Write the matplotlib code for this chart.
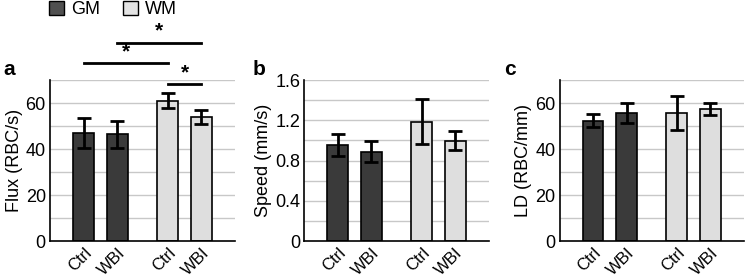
import matplotlib.pyplot as plt
import numpy as np
from matplotlib.patches import Patch

plt.rcParams['font.family'] = ['Liberation Sans', 'DejaVu Sans']

# data
labels = ['Ctrl', 'WBI', 'Ctrl', 'WBI']
groups = ['GM', 'GM', 'WM', 'WM']
flux = [47.0, 46.4, 61.0, 54.1]
flux_err = [6.5, 5.8, 3.2, 3.0]
speed = [0.954, 0.888, 1.186, 0.997]
speed_err = [0.11, 0.105, 0.225, 0.096]
ld = [52.4, 55.7, 55.7, 57.3]
ld_err = [2.7, 4.3, 7.3, 2.6]

gm_color = '#3a3a3a'
wm_color = '#dedede'
x = np.array([0, 1, 2.5, 3.5])

fig = plt.figure(figsize=(7.46, 2.8), dpi=100)
axes = [fig.add_axes([0.067, 0.139, 0.248, 0.575]),
        fig.add_axes([0.408, 0.139, 0.247, 0.575]),
        fig.add_axes([0.750, 0.139, 0.247, 0.575])]

panels = [(flux, flux_err, 'Flux (RBC/s)', 70, 10, [0, 20, 40, 60], ['0', '20', '40', '60']),
          (speed, speed_err, 'Speed (mm/s)', 1.6, 0.2, [0, 0.4, 0.8, 1.2, 1.6], ['0', '0.4', '0.8', '1.2', '1.6']),
          (ld, ld_err, 'LD (RBC/mm)', 70, 10, [0, 20, 40, 60], ['0', '20', '40', '60'])]

for ax, (vals, errs, ylab, ymax, step, yt, ytl) in zip(axes, panels):
    colors = [gm_color if g == 'GM' else wm_color for g in groups]
    for yy in np.arange(step, ymax + step / 2, step):
        ax.axhline(yy, color='#c8c8c8', lw=1.0, zorder=0)
    ax.bar(x, vals, width=0.62, color=colors, edgecolor='black', linewidth=1.2, zorder=2)
    ax.errorbar(x, vals, yerr=errs, fmt='none', ecolor='black', elinewidth=2,
                capsize=5, capthick=2, zorder=3)
    ax.set_xlim(-1, 4.5)
    ax.set_ylim(0, ymax)
    ax.set_yticks(yt)
    ax.set_yticklabels(ytl, fontsize=13)
    ax.set_xticks(x)
    ax.set_xticklabels(labels, rotation=45, ha='right', rotation_mode='anchor', fontsize=12)
    ax.tick_params(axis='both', length=0, pad=3)
    ax.tick_params(axis='x', pad=3)
    ax.set_ylabel(ylab, fontsize=13, labelpad=2)
    for s in ['top', 'right']:
        ax.spines[s].set_visible(False)
    ax.spines['left'].set_linewidth(1.2)
    ax.spines['bottom'].set_linewidth(1.2)

# significance bars on panel a
ax = axes[0]
sig = [(0, 2.5, 77.4), (1, 3.5, 86.3), (2.5, 3.5, 68.3)]
for x0, x1, yv in sig:
    ax.plot([x0, x1], [yv, yv], color='black', lw=2, clip_on=False)
    ax.text((x0 + x1) / 2, yv + 0.8, '*', ha='center', va='bottom', fontsize=15,
            fontweight='bold')

for xl, letter in zip([0.004, 0.339, 0.676], ['a', 'b', 'c']):
    fig.text(xl, 0.732, letter, fontsize=15, fontweight='bold', ha='left', va='baseline')

handles = [Patch(facecolor='#505050', edgecolor='black', label='GM'),
           Patch(facecolor='#e4e4e4', edgecolor='black', label='WM')]
fig.legend(handles=handles, loc='upper left', bbox_to_anchor=(0.044, 1.055), ncol=2,
           frameon=False, fontsize=13, handlelength=0.8, handleheight=0.8,
           handletextpad=0.4, columnspacing=1.3)

fig.savefig('out.png', dpi=100)
